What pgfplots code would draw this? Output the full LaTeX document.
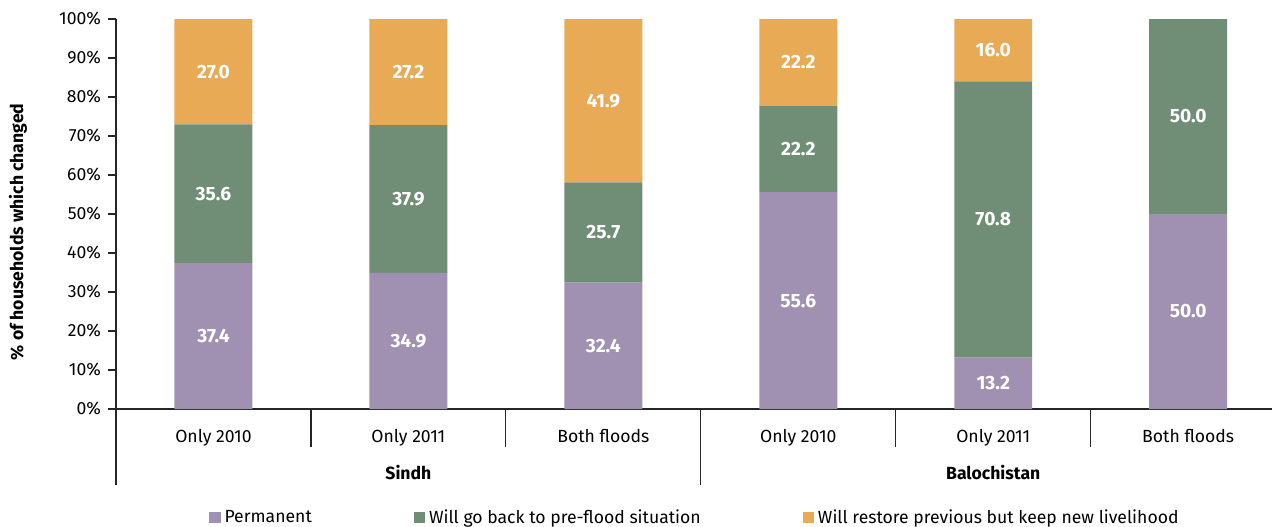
\documentclass[border=0pt]{standalone}
\usepackage{fontspec}
\setmainfont{Fira Sans}
\usepackage{pgfplots}
\pgfplotsset{compat=1.18}
\definecolor{permc}{HTML}{A091B2}
\definecolor{backc}{HTML}{708E76}
\definecolor{keepc}{HTML}{E8AA55}
\begin{document}
\begin{tikzpicture}[x=1pt,y=1pt]
\useasboundingbox (0,0) rectangle (636,263);
\begin{axis}[
  at={(58pt,58.5pt)}, anchor=south west,
  scale only axis, width=578pt, height=195pt,
  font=\fontsize{8.8pt}{10pt}\selectfont,
  ybar stacked, bar width=0.4,
  xmin=-0.5, xmax=5.43, ymin=0, ymax=100,
  axis lines*=left,
  axis line style={black!85, line width=0.6pt},
  xtick={0,...,5},
  xticklabels={Only 2010,Only 2011,Both floods,Only 2010,Only 2011,Both floods},
  x tick style={draw=none},
  xticklabel style={anchor=base, yshift=-16.5pt},
  ytick={0,10,...,100},
  ytick align=outside,
  y tick style={black!85, line width=0.6pt},
  major tick length=4pt,
  yticklabel={\pgfmathprintnumber{\tick}\%},
  yticklabel style={anchor=east},
  /pgf/number format/assume math mode=true,
  ylabel={\% of households which changed},
  every axis y label/.style={at={(axis description cs:-0.0848,0.454)}, rotate=90, anchor=center, font=\fontsize{8.8pt}{10pt}\selectfont\bfseries},
  clip=false,
  nodes near coords={\pgfmathprintnumber[fixed,fixed zerofill,precision=1]{\rawy}},
  visualization depends on=rawy \as \rawy,
  every node near coord/.append style={anchor=center, text=white, font=\fontsize{9.6pt}{11pt}\selectfont\bfseries},
  legend style={at={(0.5017,-0.28)}, anchor=center, draw=none, legend columns=3,
    font=\fontsize{8.8pt}{10pt}\selectfont,
    /tikz/every even column/.append style={column sep=49pt}},
  legend image code/.code={\fill[#1] (0pt,-2.6pt) rectangle (5.6pt,3pt);},
]
% Permanent
\addplot[fill=permc, draw=none] coordinates {(0,37.4) (1,34.9) (2,32.4) (3,55.6) (4,13.2) (5,50.0)};
% Will go back to pre-flood situation
\addplot[fill=backc, draw=none] coordinates {(0,35.6) (1,37.9) (2,25.7) (3,22.2) (4,70.8) (5,50.0)};
% Will restore previous but keep new livelihood
\addplot[fill=keepc, draw=none] coordinates {(0,27.0) (1,27.2) (2,41.9) (3,22.2) (4,16.0)};
\legend{Permanent, Will go back to pre-flood situation, Will restore previous but keep new livelihood}

% category separators below the axis
\draw[black!85, line width=0.6pt] (axis cs:0.5,0) -- ++(0pt,-19pt);
\draw[black!85, line width=0.6pt] (axis cs:1.5,0) -- ++(0pt,-19pt);
\draw[black!85, line width=0.6pt] (axis cs:3.5,0) -- ++(0pt,-19pt);
\draw[black!85, line width=0.6pt] (axis cs:4.5,0) -- ++(0pt,-19pt);
\draw[black!85, line width=0.6pt] (axis cs:-0.5,0) -- ++(0pt,-38pt);
\draw[black!85, line width=0.6pt] (axis cs:2.5,0) -- ++(0pt,-38pt);
% region labels
\node[anchor=base, yshift=-35pt, font=\fontsize{8.8pt}{10pt}\selectfont\bfseries] at (axis cs:1,0) {Sindh};
\node[anchor=base, yshift=-35pt, font=\fontsize{8.8pt}{10pt}\selectfont\bfseries] at (axis cs:4,0) {Balochistan};
\end{axis}
\end{tikzpicture}
\end{document}
